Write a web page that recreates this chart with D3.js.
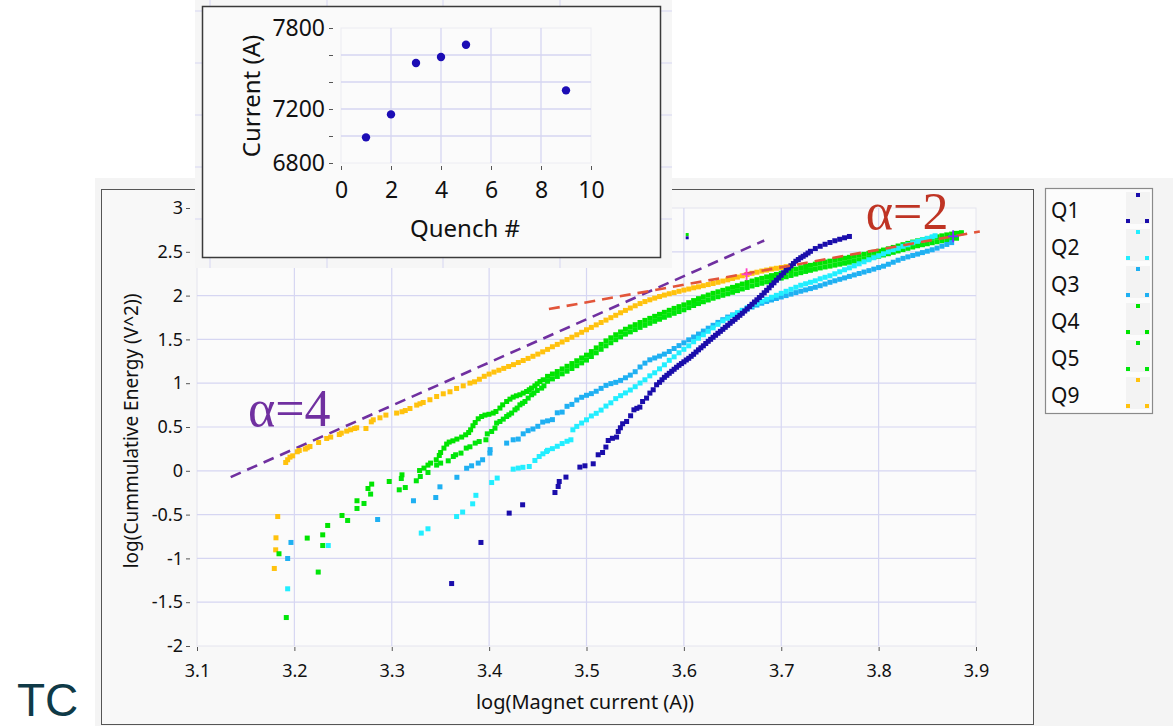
<!DOCTYPE html>
<html>
<head>
<meta charset="utf-8">
<script src="https://cdn.jsdelivr.net/npm/d3@7"></script>
<style>
  body { margin: 0; background: #ffffff; }
  svg { display: block; font-family: "Segoe UI", "Noto Sans", "Open Sans", sans-serif; }
</style>
</head>
<body>
<svg id="chart" width="1173" height="726"></svg>
<script>
// ---- Series: [log10(current), log10(cumulative energy)] ----
const seriesNames  = ["Q1", "Q2", "Q3", "Q4", "Q5", "Q9"];
const seriesColors = ["#1a0dab", "#22eeff", "#1fb0f2", "#00e400", "#00e60a", "#ffc20e"];

const q1 = [
  [3.3615,-1.287],[3.3916,-0.818],[3.4206,-0.483],[3.4344,-0.388],[3.4676,-0.248],[3.4709,-0.179],[3.4720,-0.122],
  [3.4789,-0.072],[3.4932,0.042],[3.4984,0.057],[3.5069,0.080],[3.5120,0.183],[3.5165,0.209],[3.5199,0.271],
  [3.5223,0.346],[3.5266,0.371],[3.5309,0.385],[3.5326,0.449],[3.5348,0.491],[3.5371,0.537],[3.5412,0.563],
  [3.5453,0.628],[3.5487,0.696],[3.5517,0.713],[3.5548,0.727],[3.5576,0.791],[3.5617,0.830],[3.5651,0.887],
  [3.5685,0.925],[3.5720,0.982],
  [3.575,1.010],[3.5775,1.039],[3.580,1.067],[3.5825,1.090],[3.585,1.113],[3.5875,1.136],[3.590,1.159],
  [3.5925,1.182],[3.595,1.204],[3.5975,1.224],[3.600,1.244],[3.6025,1.265],[3.605,1.284],[3.6075,1.307],
  [3.610,1.330],[3.6125,1.356],[3.615,1.381],[3.6175,1.404],[3.620,1.427],[3.6225,1.453],[3.625,1.478],
  [3.6275,1.501],[3.630,1.524],[3.6325,1.547],[3.635,1.570],[3.6375,1.592],[3.640,1.615],[3.6425,1.638],
  [3.645,1.661],[3.6475,1.684],[3.650,1.707],[3.6525,1.729],[3.655,1.752],[3.6575,1.775],[3.660,1.798],
  [3.6625,1.824],[3.665,1.849],[3.6675,1.876],[3.670,1.901],[3.6725,1.927],[3.675,1.952],[3.6775,1.978],
  [3.680,2.003],[3.6825,2.032],[3.685,2.060],[3.6875,2.089],[3.690,2.118],[3.6925,2.146],[3.695,2.175],
  [3.6975,2.203],[3.700,2.232],[3.7025,2.260],[3.705,2.289],[3.7075,2.315],[3.710,2.340],[3.7125,2.366],
  [3.715,2.392],[3.7175,2.412],[3.720,2.432],[3.7225,2.449],[3.725,2.466],[3.7275,2.486],[3.730,2.506],
  [3.735,2.537],[3.740,2.563],[3.745,2.586],[3.750,2.606],[3.755,2.626],[3.760,2.643],[3.765,2.660],[3.770,2.675]
];

const q2 = [
  [3.1931,-1.347],[3.2348,-0.853],[3.3303,-0.711],[3.3372,-0.662],[3.3666,-0.522],[3.3728,-0.471],[3.3831,-0.377],
  [3.3864,-0.280],[3.4026,-0.134],[3.4083,-0.083],[3.4247,0.019],[3.4299,0.031],[3.4347,0.040],[3.4412,0.049],
  [3.4470,0.118],[3.4514,0.163],[3.4552,0.194],[3.4590,0.220],
  [3.460,0.234],[3.465,0.253],[3.470,0.280],[3.475,0.311],[3.480,0.337],[3.484,0.354],[3.486,0.468],[3.490,0.507],
  [3.495,0.545],[3.500,0.582],[3.505,0.626],[3.510,0.656],[3.515,0.693],[3.520,0.739],[3.525,0.776],[3.530,0.824],
  [3.535,0.858],[3.540,0.889],[3.545,0.922],[3.550,0.960],[3.555,1.002],[3.560,1.039],[3.565,1.084],[3.570,1.119],
  [3.575,1.164],[3.580,1.210],[3.585,1.261],[3.590,1.301],[3.595,1.347],[3.600,1.387],[3.605,1.427],[3.610,1.473],
  [3.615,1.513],[3.620,1.553],[3.625,1.592],[3.630,1.632],[3.635,1.672],[3.640,1.712],[3.645,1.741],[3.650,1.775],
  [3.655,1.804],[3.660,1.832],[3.665,1.861],[3.670,1.889],[3.675,1.912],[3.680,1.935],[3.685,1.958],[3.690,1.981],
  [3.695,2.003],[3.700,2.026],[3.705,2.049],[3.710,2.072],[3.715,2.095],[3.720,2.118],[3.725,2.135],[3.730,2.152],
  [3.735,2.169],[3.740,2.192],[3.745,2.209],[3.750,2.226],[3.755,2.249],[3.760,2.272],[3.765,2.295],[3.770,2.317],
  [3.775,2.340],[3.780,2.363],[3.785,2.386],[3.790,2.409],[3.795,2.432],[3.800,2.454],[3.805,2.477],[3.810,2.500],
  [3.815,2.523],[3.820,2.540],[3.825,2.563],[3.830,2.580],[3.835,2.603],[3.840,2.620],[3.845,2.637],[3.850,2.654],
  [3.855,2.671],[3.858,2.683]
];

const q3 = [
  [3.1931,-1.001],[3.1965,-0.818],[3.2855,-0.556],[3.3223,-0.342],[3.3452,-0.305],[3.3495,-0.183],[3.3669,-0.074],
  [3.3769,0.029],[3.3820,0.057],[3.3888,0.088],[3.3933,0.126],[3.4008,0.202],[3.4010,0.242],[3.4180,0.316],
  [3.4247,0.354],[3.4299,0.362],[3.4350,0.422],
  [3.440,0.458],[3.445,0.477],[3.450,0.508],[3.455,0.556],[3.460,0.570],[3.465,0.584],[3.470,0.662],[3.475,0.670],
  [3.480,0.736],[3.485,0.758],[3.490,0.808],[3.495,0.839],[3.500,0.862],[3.505,0.881],[3.510,0.908],[3.515,0.941],
  [3.520,0.975],[3.525,0.995],[3.530,1.010],[3.535,1.032],[3.540,1.062],[3.545,1.092],[3.550,1.131],[3.555,1.185],
  [3.560,1.229],[3.565,1.267],[3.570,1.288],[3.575,1.309],[3.580,1.332],[3.585,1.362],[3.590,1.396],[3.595,1.429],
  [3.600,1.461],[3.605,1.495],[3.610,1.527],[3.615,1.561],[3.620,1.595],[3.625,1.628],[3.630,1.661],[3.635,1.694],
  [3.640,1.725],[3.645,1.755],[3.650,1.779],[3.655,1.801],[3.660,1.823],[3.665,1.846],[3.670,1.869],[3.675,1.892],
  [3.680,1.913],[3.685,1.933],[3.690,1.950],[3.695,1.967],[3.700,1.984],[3.705,2.000],[3.710,2.017],[3.715,2.034],
  [3.720,2.050],[3.725,2.065],[3.730,2.080],[3.735,2.095],[3.740,2.113],[3.745,2.132],[3.750,2.152],[3.755,2.169],
  [3.760,2.186],[3.765,2.202],[3.770,2.219],[3.775,2.236],[3.780,2.252],[3.785,2.269],[3.790,2.285],[3.795,2.302],
  [3.800,2.320],[3.805,2.336],[3.810,2.358],[3.815,2.381],[3.820,2.404],[3.825,2.425],[3.830,2.442],[3.835,2.458],
  [3.840,2.474],[3.845,2.491],[3.850,2.507],[3.855,2.523],[3.860,2.542],[3.865,2.564],[3.870,2.584],[3.875,2.605]
];

const q4 = [
  [3.1842,-0.947],[3.2132,-0.768],[3.2291,-0.731],[3.2342,-0.624],[3.2489,-0.510],[3.2643,-0.342],[3.2756,-0.202],
  [3.2794,-0.152],[3.2974,-0.122],[3.3105,-0.046],[3.3286,0.003],[3.3331,0.031],[3.3372,0.065],[3.3399,0.088],
  [3.3457,0.126],[3.3488,0.175],[3.3502,0.209],[3.3536,0.259],[3.3564,0.305],[3.3590,0.328],[3.3628,0.342],
  [3.3669,0.362],[3.3718,0.385],[3.3759,0.411],[3.3790,0.437],[3.3810,0.468],[3.3834,0.514],[3.3857,0.551],
  [3.3888,0.594],[3.3923,0.620],[3.3957,0.636],[3.3998,0.645],[3.4042,0.659],[3.4070,0.677],[3.4111,0.716],
  [3.4139,0.753],[3.4180,0.791],[3.4214,0.818],[3.4247,0.841],[3.4280,0.856],[3.4316,0.868],[3.4350,0.887],
  [3.4385,0.905],[3.4412,0.925],[3.4436,0.944],[3.4470,0.970],[3.4494,0.993],[3.4522,1.019],[3.4555,1.039],
  [3.460,1.078],[3.465,1.105],[3.470,1.133],[3.475,1.163],[3.480,1.193],[3.485,1.224],[3.490,1.256],[3.495,1.288],
  [3.500,1.320],[3.505,1.361],[3.510,1.403],[3.515,1.443],[3.520,1.483],[3.525,1.518],[3.530,1.553],[3.535,1.585],
  [3.540,1.616],[3.545,1.642],[3.550,1.668],[3.555,1.693],[3.560,1.717],[3.565,1.740],[3.570,1.763],[3.575,1.786],
  [3.580,1.809],[3.585,1.832],[3.590,1.854],[3.595,1.874],[3.600,1.894],[3.605,1.919],[3.610,1.943],[3.615,1.965],
  [3.620,1.986],[3.625,2.006],[3.630,2.026],[3.635,2.043],[3.640,2.060],[3.645,2.077],[3.650,2.094],[3.655,2.113],
  [3.660,2.132],[3.665,2.149],[3.670,2.166],[3.675,2.182],[3.680,2.197],[3.685,2.213],[3.690,2.228],[3.695,2.242],
  [3.700,2.256],[3.705,2.271],[3.710,2.286],[3.715,2.302],[3.720,2.318],[3.725,2.332],[3.730,2.345],[3.735,2.359],
  [3.740,2.372],[3.745,2.383],[3.750,2.393],[3.755,2.404],[3.760,2.415],[3.765,2.426],[3.770,2.437],[3.775,2.449],
  [3.780,2.460],[3.785,2.471],[3.790,2.482],[3.795,2.494],[3.800,2.506],[3.805,2.520],[3.810,2.534],[3.815,2.550],
  [3.820,2.566],[3.825,2.581],[3.830,2.596],[3.835,2.611],[3.840,2.625],[3.845,2.637],[3.850,2.648],[3.855,2.660],
  [3.860,2.671],[3.865,2.682],[3.870,2.693],[3.875,2.702],[3.880,2.711],[3.885,2.718]
];

const q5 = [
  [3.1917,-1.675],[3.2245,-1.156],[3.2291,-0.853],[3.2547,-0.567],[3.2643,-0.430],[3.2715,-0.373],[3.2783,-0.266],
  [3.3077,-0.217],[3.3139,-0.191],[3.3098,-0.088],[3.3252,-0.114],[3.3293,-0.065],[3.3372,-0.019],[3.3461,0.065],
  [3.3502,0.088],[3.3580,0.114],[3.3632,0.163],[3.3656,0.183],[3.3711,0.202],[3.3765,0.259],[3.3803,0.274],
  [3.3857,0.316],[3.3898,0.334],[3.3967,0.354],[3.3981,0.422],[3.4026,0.449],[3.4060,0.487],[3.4077,0.545],
  [3.4111,0.563],[3.4145,0.590],[3.4180,0.620],[3.4203,0.639],[3.4231,0.659],[3.4265,0.696],[3.4288,0.716],
  [3.4316,0.753],[3.4342,0.771],[3.4368,0.791],[3.4401,0.830],[3.4436,0.868],[3.4460,0.887],[3.4494,0.917],
  [3.4539,0.944],[3.4563,0.970],
  [3.460,1.022],[3.465,1.049],[3.470,1.077],[3.475,1.107],[3.480,1.137],[3.485,1.168],[3.490,1.200],[3.495,1.232],
  [3.500,1.264],[3.505,1.305],[3.510,1.347],[3.515,1.387],[3.520,1.427],[3.525,1.462],[3.530,1.497],[3.535,1.529],
  [3.540,1.560],[3.545,1.586],[3.550,1.612],[3.555,1.637],[3.560,1.661],[3.565,1.684],[3.570,1.707],[3.575,1.730],
  [3.580,1.753],[3.585,1.776],[3.590,1.798],[3.595,1.818],[3.600,1.838],[3.605,1.863],[3.610,1.887],[3.615,1.909],
  [3.620,1.930],[3.625,1.950],[3.630,1.970],[3.635,1.987],[3.640,2.004],[3.645,2.021],[3.650,2.038],[3.655,2.057],
  [3.660,2.076],[3.665,2.093],[3.670,2.110],[3.675,2.126],[3.680,2.141],[3.685,2.157],[3.690,2.172],[3.695,2.186],
  [3.700,2.200],[3.705,2.215],[3.710,2.230],[3.715,2.246],[3.720,2.262],[3.725,2.276],[3.730,2.289],[3.735,2.303],
  [3.740,2.316],[3.745,2.327],[3.750,2.337],[3.755,2.348],[3.760,2.359],[3.765,2.370],[3.770,2.381],[3.775,2.393],
  [3.780,2.404],[3.785,2.415],[3.790,2.426],[3.795,2.438],[3.800,2.450],[3.805,2.464],[3.810,2.478],[3.815,2.494],
  [3.820,2.510],[3.825,2.525],[3.830,2.540],[3.835,2.555],[3.840,2.569],[3.845,2.581],[3.850,2.592],[3.855,2.604],
  [3.860,2.615],[3.865,2.626],[3.870,2.637],[3.875,2.646],[3.880,2.655]
];

const q9 = [
  [3.1829,-0.522],[3.1811,-0.765],[3.1808,-0.902],[3.1794,-1.115],
  [3.1911,0.095],[3.1931,0.126],[3.1955,0.156],[3.1983,0.171],[3.2030,0.217],[3.2050,0.232],[3.2112,0.248],
  [3.2132,0.263],[3.2160,0.277],[3.2249,0.323],[3.2332,0.369],[3.2373,0.385],[3.2461,0.414],[3.2482,0.430],
  [3.2537,0.453],[3.2578,0.468],[3.2619,0.483],[3.2640,0.491],[3.2735,0.483],[3.2790,0.559],[3.2810,0.582],
  [3.2879,0.605],[3.2940,0.636],[3.3050,0.659],[3.3105,0.674],[3.3139,0.688],[3.3187,0.711],[3.3256,0.750],
  [3.3290,0.765],[3.3323,0.780],[3.3392,0.811],[3.3461,0.848],[3.3529,0.879],[3.3598,0.902],[3.3666,0.940],
  [3.3734,0.970],[3.3803,1.001],
  [3.385,1.016],[3.390,1.045],[3.395,1.079],[3.400,1.104],[3.405,1.127],[3.410,1.148],[3.415,1.169],[3.420,1.191],
  [3.425,1.212],[3.430,1.236],[3.435,1.259],[3.440,1.283],[3.445,1.307],[3.450,1.332],[3.455,1.358],[3.460,1.386],
  [3.465,1.416],[3.470,1.443],[3.475,1.470],[3.480,1.498],[3.485,1.525],[3.490,1.553],[3.495,1.581],[3.500,1.610],
  [3.505,1.637],[3.510,1.666],[3.515,1.693],[3.520,1.720],[3.525,1.748],[3.530,1.775],[3.535,1.804],[3.540,1.831],
  [3.545,1.858],[3.550,1.884],[3.555,1.909],[3.560,1.932],[3.565,1.952],[3.570,1.971],[3.575,1.989],[3.580,2.006],
  [3.585,2.021],[3.590,2.034],[3.595,2.049],[3.600,2.063],[3.605,2.075],[3.610,2.089],[3.615,2.100],[3.620,2.113],
  [3.625,2.126],[3.630,2.138],[3.635,2.152],[3.640,2.166],[3.645,2.180],[3.650,2.196],[3.655,2.211],[3.660,2.226],
  [3.665,2.240],[3.670,2.255],[3.675,2.267],[3.680,2.280],[3.685,2.291],[3.690,2.303],[3.695,2.312],[3.700,2.321],
  [3.705,2.330],[3.710,2.338]
];

// two stray single markers near log I = 3.6
const strayMarks = [[3.6034, 2.697, "Q4"], [3.6034, 2.660, "Q1"]];

// Reference slopes drawn as dashed guides
const slopeFour = [[3.1346, -0.072], [3.6825, 2.629]];
const slopeTwo  = [[3.4614, 1.846], [3.9039, 2.732]];
const crossMarks = [[3.6644, 2.243, "#ff3fc8"], [3.8765, 2.677, "#7b2cff"]];

const xTicks = [3.1, 3.2, 3.3, 3.4, 3.5, 3.6, 3.7, 3.8, 3.9];
const yTicks = [-2, -1.5, -1, -0.5, 0, 0.5, 1, 1.5, 2, 2.5, 3];

// Inset: quench current per quench number
const quenchNumbers  = [1, 2, 3, 4, 5, 9];
const quenchCurrents = [6990, 7160, 7541, 7585, 7676, 7338];
const insetXTicks = [0, 2, 4, 6, 8, 10];
const insetYTicks = [6800, 7000, 7200, 7400, 7600, 7800];
const insetYLabeled = [6800, 7200, 7800];

const svg = d3.select("#chart");
const gridColor = "#d6d6f2";

// ---------- window background ----------
svg.append("rect").attr("x", 95).attr("y", 178).attr("width", 1078).attr("height", 548).attr("fill", "#f4f4f4");
svg.append("rect").attr("x", 101.5).attr("y", 189.5).attr("width", 932).attr("height", 535)
  .attr("fill", "#f8f8f8").attr("stroke", "#555").attr("stroke-width", 1);

// ---------- main plot ----------
const x = d3.scaleLinear().domain([3.1, 3.9]).range([197, 976]);
const y = d3.scaleLinear().domain([-2, 3]).range([646, 208]);

svg.append("rect").attr("x", x(3.1)).attr("y", y(3)).attr("width", x(3.9) - x(3.1)).attr("height", y(-2) - y(3))
  .attr("fill", "#fbfbfb").attr("stroke", "#e4e4ee").attr("stroke-width", 1);

const grid = svg.append("g");
grid.selectAll("line.v").data(xTicks.slice(1, -1)).join("line")
  .attr("x1", d => x(d)).attr("x2", d => x(d)).attr("y1", y(3)).attr("y2", y(-2))
  .attr("stroke", gridColor).attr("stroke-width", 1.2);
grid.selectAll("line.h").data(yTicks.slice(1, -1)).join("line")
  .attr("x1", x(3.1)).attr("x2", x(3.9)).attr("y1", d => y(d)).attr("y2", d => y(d))
  .attr("stroke", gridColor).attr("stroke-width", 1.2);

const fmt = d => String(d);
const yAxis = svg.append("g").attr("transform", "translate(190,0)")
  .call(d3.axisLeft(y).tickValues(yTicks).tickFormat(fmt).tickSize(4).tickPadding(3));
const xAxis = svg.append("g").attr("transform", "translate(0,647)")
  .call(d3.axisBottom(x).tickValues(xTicks).tickFormat(fmt).tickSize(4).tickPadding(13));
[yAxis, xAxis].forEach(a => {
  a.attr("font-family", null).attr("font-size", null);
  a.select(".domain").remove();
  a.selectAll(".tick line").attr("stroke", "#555");
  a.selectAll(".tick text").attr("fill", "#111").style("font-size", "18px");
});

svg.append("text").attr("x", 585).attr("y", 709).attr("text-anchor", "middle")
  .style("font-size", "20px").attr("fill", "#111").text("log(Magnet current (A))");
svg.append("text").attr("transform", "translate(138,431) rotate(-90)").attr("text-anchor", "middle")
  .style("font-size", "19px").attr("fill", "#111").text("log(Cummulative Energy (V^2))");

// dashed slope guides
const line = d3.line().x(d => x(d[0])).y(d => y(d[1]));
svg.append("path").attr("d", line(slopeFour)).attr("fill", "none")
  .attr("stroke", "#7030a0").attr("stroke-width", 2.6).attr("stroke-dasharray", "11,7");

// scatter series, drawn back to front
const seriesData = [q1, q2, q3, q4, q5, q9];
const drawOrder = [5, 4, 3, 2, 1, 0];
const markSize = 5;
drawOrder.forEach(i => {
  svg.append("g").selectAll("rect").data(seriesData[i]).join("rect")
    .attr("x", d => x(d[0]) - markSize / 2).attr("y", d => y(d[1]) - markSize / 2)
    .attr("width", markSize).attr("height", markSize).attr("fill", seriesColors[i]);
});
svg.append("g").selectAll("rect").data(strayMarks).join("rect")
  .attr("x", d => x(d[0]) - 1.5).attr("y", d => y(d[1]) - 1.5).attr("width", 3).attr("height", 3)
  .attr("fill", d => seriesColors[seriesNames.indexOf(d[2])]);

svg.append("path").attr("d", line(slopeTwo)).attr("fill", "none")
  .attr("stroke", "#e2553a").attr("stroke-width", 2.6).attr("stroke-dasharray", "11,7");

const crosses = svg.append("g").selectAll("g").data(crossMarks).join("g")
  .attr("transform", d => `translate(${x(d[0])},${y(d[1])})`);
crosses.append("line").attr("x1", -5).attr("x2", 5).attr("stroke", d => d[2]).attr("stroke-width", 1.8);
crosses.append("line").attr("y1", -6).attr("y2", 6).attr("stroke", d => d[2]).attr("stroke-width", 1.8);

svg.append("text").attr("x", x(3.1524)).attr("y", y(0.514))
  .style("font-family", "'Liberation Serif', 'Times New Roman', serif").style("font-size", "52px")
  .attr("fill", "#7030a0").text("α=4");
svg.append("text").attr("x", x(3.7869)).attr("y", y(2.763))
  .style("font-family", "'Liberation Serif', 'Times New Roman', serif").style("font-size", "52px")
  .attr("fill", "#bf3424").text("α=2");

// ---------- legend ----------
const legend = svg.append("g");
legend.append("rect").attr("x", 1045.5).attr("y", 188.5).attr("width", 107).attr("height", 225)
  .attr("fill", "#fcfcfc").attr("stroke", "#8a8a8a").attr("stroke-width", 1.2);
const items = legend.selectAll("g.item").data(seriesNames).join("g")
  .attr("transform", (d, i) => `translate(0,${i * 37})`);
items.append("text").attr("x", 1051).attr("y", 218).style("font-size", "21px").attr("fill", "#111").text(d => d);
items.append("rect").attr("x", 1126).attr("y", 192).attr("width", 24).attr("height", 32).attr("fill", "#f3f3f3");
const iconDots = [[1138, 195], [1128, 221], [1147, 221]];
items.each(function (d, i) {
  d3.select(this).selectAll("rect.dot").data(iconDots).join("rect")
    .attr("x", p => p[0] - 2).attr("y", p => p[1] - 2).attr("width", 4).attr("height", 4)
    .attr("fill", seriesColors[i]);
});

// ---------- backdrop behind the inset ----------
svg.append("rect").attr("x", 195).attr("y", 0).attr("width", 477).attr("height", 268).attr("fill", "#f6f6f6");
const backV = [210, 327, 443, 560], backH = [11, 63, 115, 167, 219];
svg.append("g").selectAll("line").data(backV).join("line")
  .attr("x1", d => d).attr("x2", d => d).attr("y1", 0).attr("y2", 268).attr("stroke", gridColor);
svg.append("g").selectAll("line").data(backH).join("line")
  .attr("x1", 195).attr("x2", 672).attr("y1", d => d).attr("y2", d => d).attr("stroke", gridColor);

// ---------- inset ----------
svg.append("rect").attr("x", 202.5).attr("y", 6.5).attr("width", 458).attr("height", 251)
  .attr("fill", "#fafafa").attr("stroke", "#3a3a3a").attr("stroke-width", 1.5);
const ix = d3.scaleLinear().domain([0, 10]).range([341, 591]);
const iy = d3.scaleLinear().domain([6800, 7800]).range([163, 28]);
svg.append("rect").attr("x", ix(0)).attr("y", iy(7800)).attr("width", ix(10) - ix(0)).attr("height", iy(6800) - iy(7800))
  .attr("fill", "#fbfbfb").attr("stroke", "#ececf2");
const ig = svg.append("g");
ig.selectAll("line.v").data(insetXTicks.slice(1, -1)).join("line")
  .attr("x1", d => ix(d)).attr("x2", d => ix(d)).attr("y1", iy(7800)).attr("y2", iy(6800))
  .attr("stroke", gridColor).attr("stroke-width", 1.3);
ig.selectAll("line.h").data(insetYTicks.slice(1, -1)).join("line")
  .attr("x1", ix(0)).attr("x2", ix(10)).attr("y1", d => iy(d)).attr("y2", d => iy(d))
  .attr("stroke", gridColor).attr("stroke-width", 1.3);
const iyAxis = svg.append("g").attr("transform", "translate(333,0)")
  .call(d3.axisLeft(iy).tickValues(insetYTicks).tickSize(4)
    .tickFormat(d => insetYLabeled.includes(d) ? String(d) : "").tickPadding(4));
const ixAxis = svg.append("g").attr("transform", "translate(0,166)")
  .call(d3.axisBottom(ix).tickValues(insetXTicks).tickFormat(fmt).tickSize(4).tickPadding(12));
[iyAxis, ixAxis].forEach(a => {
  a.attr("font-family", null).attr("font-size", null);
  a.select(".domain").remove();
  a.selectAll(".tick line").attr("stroke", "#555");
  a.selectAll(".tick text").attr("fill", "#111").style("font-size", "23px");
});
svg.append("g").selectAll("circle").data(quenchNumbers).join("circle")
  .attr("cx", d => ix(d)).attr("cy", (d, i) => iy(quenchCurrents[i])).attr("r", 4.2).attr("fill", "#1c0db5");
svg.append("text").attr("x", 465).attr("y", 237).attr("text-anchor", "middle")
  .style("font-size", "24px").attr("fill", "#111").text("Quench #");
svg.append("text").attr("transform", "translate(260,96) rotate(-90)").attr("text-anchor", "middle")
  .style("font-size", "24px").attr("fill", "#111").text("Current (A)");

// ---------- corner tag ----------
svg.append("text").attr("x", 17).attr("y", 716)
  .style("font-family", "'Liberation Sans', Arial, sans-serif").style("font-size", "46px")
  .attr("fill", "#0f3a47").text("TC");
</script>
</body>
</html>
